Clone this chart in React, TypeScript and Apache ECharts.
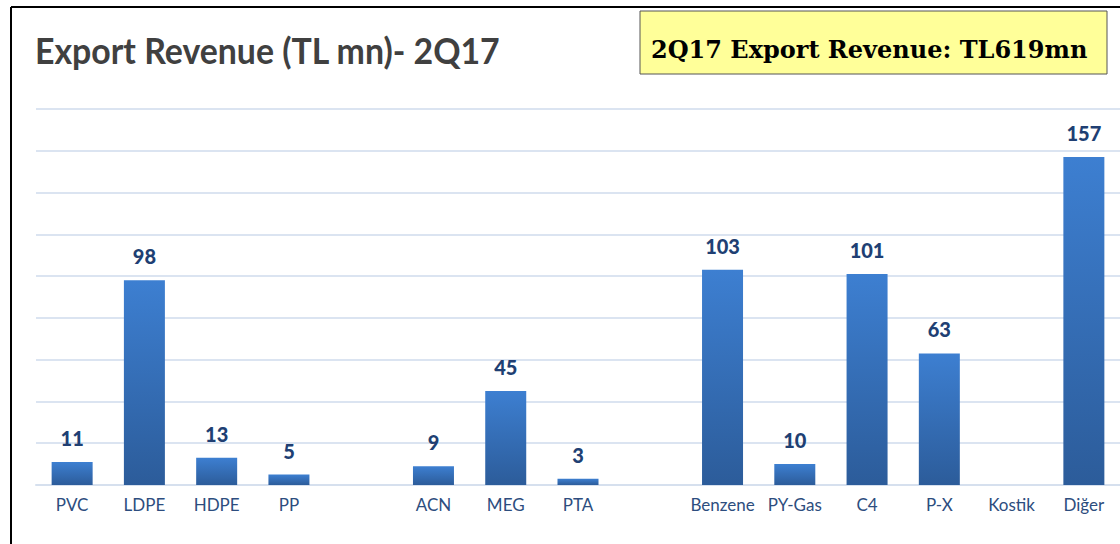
import React, { useEffect, useRef } from "react";
import * as echarts from "echarts";

const categories = ["PVC", "LDPE", "HDPE", "PP", "", "ACN", "MEG", "PTA", "", "Benzene", "PY-Gas", "C4", "P-X", "Kostik", "Diğer"];
const values: (number | null)[] = [11, 98, 13, 5, null, 9, 45, 3, null, 103, 10, 101, 63, null, 157];
const titleText = "Export Revenue (TL mn)- 2Q17";
const boxText = "2Q17 Export Revenue: TL619mn";

export default function App() {
  const ref = useRef<HTMLDivElement>(null);
  useEffect(() => {
    if (!ref.current) return;
    const chart = echarts.init(ref.current, null, { renderer: "svg" });
    chart.setOption({
      animation: false,
      backgroundColor: "#ffffff",
      grid: { left: 36, right: -5, top: 109, bottom: 59, containLabel: false },
      xAxis: {
        type: "category",
        data: categories,
        axisLine: { show: true, lineStyle: { color: "#d6e0ee", width: 2 } },
        axisTick: { show: false },
        axisLabel: { color: "#2d4d7e", fontFamily: "Lato", fontSize: 17, margin: 11, interval: 0 },
      },
      yAxis: {
        type: "value",
        min: 0,
        max: 180,
        interval: 20,
        axisLabel: { show: false },
        axisLine: { show: false },
        axisTick: { show: false },
        splitLine: { lineStyle: { color: "#dbe4f1", width: 2 } },
      },
      series: [
        {
          type: "bar",
          data: values,
          barWidth: 41,
          itemStyle: {
            color: new echarts.graphic.LinearGradient(0, 0, 0, 1, [
              { offset: 0, color: "#3d7fd1" },
              { offset: 1, color: "#2c5c9a" },
            ]),
          },
          label: {
            show: true,
            position: "top",
            distance: 14,
            color: "#203f73",
            fontFamily: "Lato",
            fontWeight: 900,
            fontSize: 20,
          },
        },
      ],
      graphic: [
        { type: "line", shape: { x1: 11, y1: 7, x2: 1120, y2: 7 }, style: { stroke: "#000", lineWidth: 2 } },
        { type: "line", shape: { x1: 11, y1: 7, x2: 11, y2: 544 }, style: { stroke: "#000", lineWidth: 2 } },
        {
          type: "text",
          x: 35,
          y: 50,
          scaleX: 0.94,
          style: {
            text: titleText,
            fill: "#404040",
            font: "bold 36px Lato",
            verticalAlign: "middle",
          },
        },
        {
          type: "rect",
          shape: { x: 640, y: 11, width: 467, height: 63 },
          style: { fill: "#ffff99", stroke: "#555555", lineWidth: 1 },
        },
        {
          type: "text",
          x: 651,
          y: 49,
          style: {
            text: boxText,
            fill: "#000",
            font: "bold 24px 'DejaVu Serif'",
            verticalAlign: "middle",
          },
        },
      ],
    });
    return () => chart.dispose();
  }, []);
  return <div ref={ref} style={{ position: "absolute", left: 0, top: 0, width: 1120, height: 544 }} />;
}
